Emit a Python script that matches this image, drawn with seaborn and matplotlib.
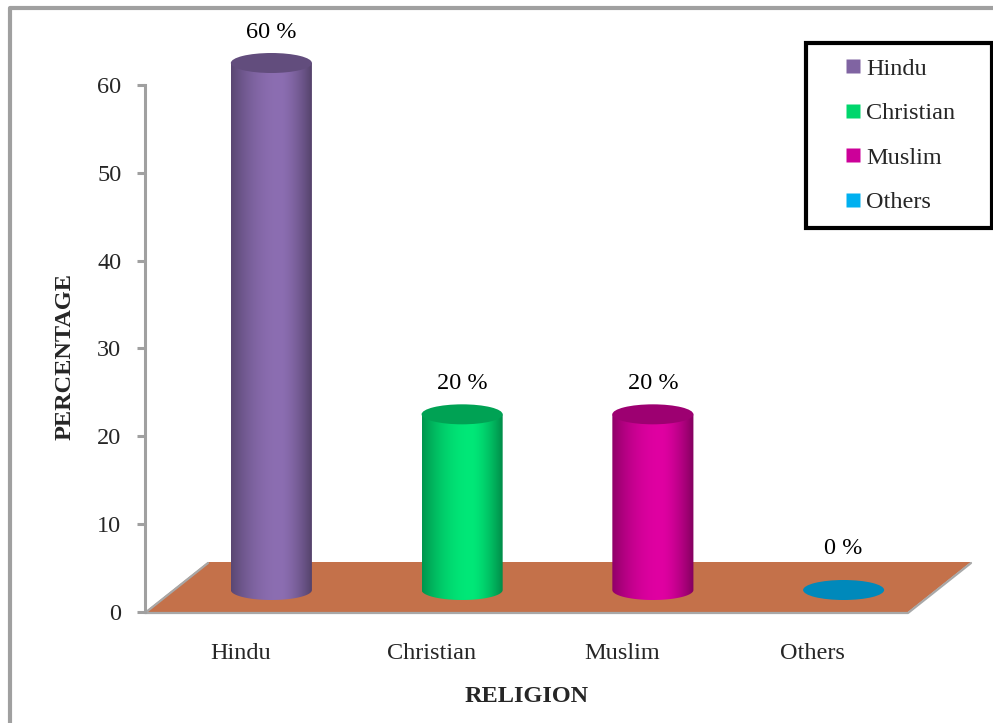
import numpy as np
import matplotlib
matplotlib.use("Agg")
import matplotlib.pyplot as plt
import seaborn as sns
from matplotlib.patches import Polygon, Ellipse, PathPatch
from matplotlib.path import Path
from matplotlib.transforms import IdentityTransform
from matplotlib.colors import to_rgb
from matplotlib.lines import Line2D

# ---- data -------------------------------------------------------------
religions = ["Hindu", "Christian", "Muslim", "Others"]
percentages = [60, 20, 20, 0]
value_labels = ["60 %", "20 %", "20 %", "0 %"]
y_ticks = [0, 10, 20, 30, 40, 50, 60]

# ---- styling ----------------------------------------------------------
body_colors = ["#8C6EB2", "#00E878", "#E000A2", "#00B0F0"]
legend_colors = ["#8064A2", "#00D66C", "#CC0099", "#00B0F0"]
floor_color = "#C4714A"
axis_gray = "#A0A0A0"

sns.set_theme(style="white")
plt.rcParams["font.family"] = ["Liberation Serif", "DejaVu Serif"]
FS = 17.5

W, H = 993, 723
fig = plt.figure(figsize=(W / 100, H / 100), dpi=100)
fig.patch.set_facecolor("white")

# plot geometry (pixels)
left_px, right_px = 145, 908
zero_px, px_per_unit = 612, (612 - 85) / 60
ymax = 66
top_px = zero_px - ymax * px_per_unit
depth_dx, depth_dy = 63, 50          # floor depth
mid_dx, mid_dy = 31, 22              # cylinder row inside the floor

pos = [left_px / W, (H - zero_px) / H, (right_px - left_px) / W, (zero_px - top_px) / H]
ax = fig.add_axes(pos)
ax.set_xlim(-0.5, 3.5)
ax.set_ylim(0, ymax)
ax.patch.set_alpha(0)

# value axis
for s in ["top", "right", "bottom"]:
    ax.spines[s].set_visible(False)
ax.spines["left"].set_bounds(0, 60)
ax.spines["left"].set_color(axis_gray)
ax.spines["left"].set_linewidth(2.2)
ax.set_yticks(y_ticks)
ax.tick_params(axis="y", direction="out", length=6, width=2.2, color=axis_gray,
               labelsize=FS, pad=11, left=True)
ax.set_xticks(range(len(religions)), religions)
ax.tick_params(axis="x", length=0, labelsize=FS, pad=22)

ax.set_xlabel("RELIGION", fontsize=FS, fontweight="bold")
ax.xaxis.set_label_coords(0.5, -(697 - zero_px) / (zero_px - top_px))
ax.xaxis.label.set_va("center")
ax.set_ylabel("PERCENTAGE", fontsize=FS, fontweight="bold")
ax.yaxis.set_label_coords((65 - left_px) / (right_px - left_px),
                          (zero_px - 357) / (zero_px - top_px))
ax.yaxis.label.set_va("center")

# floor of the 3-D chart
fl = ax.transAxes.transform([(0, 0), (1, 0)])
floor = np.array([fl[0], fl[1], fl[1] + [depth_dx, depth_dy], fl[0] + [depth_dx, depth_dy]])
ax.add_patch(Polygon(floor, closed=True, transform=IdentityTransform(),
                     facecolor=floor_color, edgecolor="none", zorder=1, clip_on=False))
edge = floor[[3, 0, 1, 2]]
ax.add_artist(Line2D(edge[:, 0], edge[:, 1] - 1, transform=IdentityTransform(),
                     color="#A8A8A8", lw=1.6, zorder=1.5, clip_on=False))

# cylinders sit in an overlay shifted half-way into the floor depth
pos2 = [(left_px + mid_dx) / W, (H - zero_px + mid_dy) / H, pos[2], pos[3]]
ax2 = fig.add_axes(pos2)
ax2.patch.set_alpha(0)
sns.barplot(x=religions, y=percentages, hue=religions, palette=legend_colors,
            width=0.425, legend=False, ax=ax2)
ax2.set_xlim(-0.5, 3.5)
ax2.set_ylim(0, ymax)
ax2.axis("off")

b = 10 / px_per_unit  # half-height of the cylinder ellipses in data units


def profile(t):
    # cylinder shading: darker edges, highlight right of centre
    p = np.where(t < 0.6, 1 - 0.36 * ((0.6 - t) / 0.6) ** 2,
                 1 - 0.42 * ((t - 0.6) / 0.4) ** 1.6)
    return p


bars = [p for c in ax2.containers for p in c.patches]
bars.sort(key=lambda p: p.get_x())
for bar, col, lab in zip(bars, body_colors, value_labels):
    x0, w, h = bar.get_x(), bar.get_width(), bar.get_height()
    cx = x0 + w / 2
    bar.set_visible(False)
    base = np.array(to_rgb(col))
    if h > 0:
        theta = np.linspace(np.pi, 2 * np.pi, 60)
        verts = [(x0, h), (x0, 0)] + list(zip(cx + w / 2 * np.cos(theta), b * np.sin(theta))) \
            + [(x0 + w, h), (x0, h)]
        path = Path(verts, closed=True)
        t = np.linspace(0, 1, 200)
        grad = np.clip(base[None, :] * profile(t)[:, None], 0, 1)[None, :, :]
        im = ax2.imshow(grad, extent=[x0, x0 + w, -b, h], aspect="auto",
                        interpolation="bilinear", zorder=2)
        im.set_clip_box(fig.bbox)
        im.set_clip_path(PathPatch(path, transform=ax2.transData))
        top_col = base * 0.70
    else:
        top_col = base * 0.78
    ax2.add_patch(Ellipse((cx, h), w, 2 * b, facecolor=np.clip(top_col, 0, 1),
                          edgecolor="none", zorder=3, clip_on=False))
    ax2.annotate(lab, (cx, h), xytext=(0, 22 if h > 0 else 30),
                 textcoords="offset points", ha="center", va="center",
                 fontsize=FS, color="black", zorder=4, annotation_clip=False)
ax2.set_xlim(-0.5, 3.5)
ax2.set_ylim(0, ymax)

# legend
handles = [Line2D([], [], marker="s", linestyle="none", markersize=9.4,
                  markerfacecolor=c, markeredgecolor="none") for c in legend_colors]
leg = fig.legend(handles, religions, loc="upper left",
                 bbox_to_anchor=(806 / W, 1 - 226 / H, 186 / W, 183 / H),
                 bbox_transform=fig.transFigure, mode="expand", borderaxespad=0,
                 fontsize=FS, frameon=True, fancybox=False, framealpha=1,
                 handlelength=2.67, handletextpad=-0.8, borderpad=0.6,
                 labelspacing=0.93)
leg.get_frame().set_edgecolor("black")
leg.get_frame().set_linewidth(3)

# outer frame (left and top edges)
fig.add_artist(Line2D([10 / W, 10 / W, 1], [0, 1 - 8 / H, 1 - 8 / H],
                      transform=fig.transFigure, color=axis_gray, lw=3))

fig.savefig("out.png", dpi=100, facecolor="white")
